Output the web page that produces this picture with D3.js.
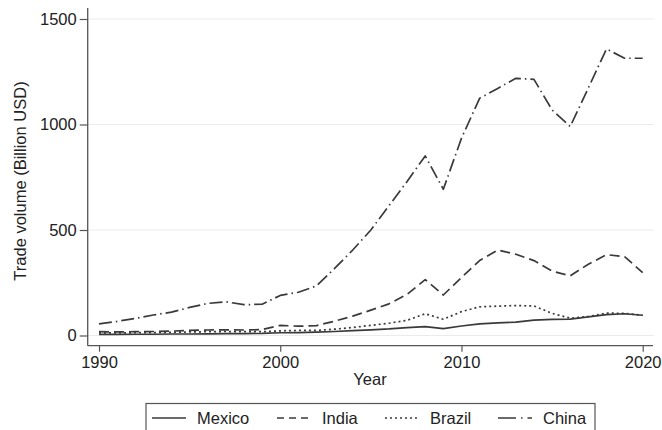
<!DOCTYPE html>
<html>
<head>
<meta charset="utf-8">
<script src="https://cdn.jsdelivr.net/npm/d3@7"></script>
<style>
  html, body { margin: 0; padding: 0; background: #fff; }
  svg { display: block; font-family: "Liberation Sans", Arial, Helvetica, sans-serif; }
</style>
</head>
<body>
<svg id="chart" width="662" height="430"></svg>
<script>
// Annual trade volume, billion USD
const years = d3.range(1990, 2021);
const mexico = [5,5,6,6,7,7,8,9,9,10,13,14,16,19,23,27,31,37,42,33,45,55,60,63,73,76,78,88,99,103,96];
const india  = [18,17,18,19,21,24,26,27,26,28,48,44,47,68,92,120,150,195,265,192,275,355,405,385,355,305,283,338,383,374,298];
const brazil = [12,12,13,14,15,17,18,19,18,18,22,24,24,30,38,48,58,72,103,77,113,136,139,142,140,105,82,90,106,105,96];
const china  = [55,67,81,97,111,133,152,160,146,148,190,205,235,318,405,500,615,730,851,693,935,1124,1171,1219,1214,1069,990,1173,1358,1314,1314];
const yTicks = [0, 500, 1000, 1500];
const xTicks = [1990, 2000, 2010, 2020];
const seriesNames = ["Mexico", "India", "Brazil", "China"];

const series = [
  { name: seriesNames[0], values: mexico, dash: null,         key: null },
  { name: seriesNames[1], values: india,  dash: "10,5",       key: "7,5" },
  { name: seriesNames[2], values: brazil, dash: "2,3",        key: "2,3" },
  { name: seriesNames[3], values: china,  dash: "13,4,1.5,4", key: "18,5,1.5,5" }
];

const svg = d3.select("#chart");
const ink = "#3a3a3a";
const axisInk = "#555";
const textInk = "#222";

const x = d3.scaleLinear().domain([1990, 2020]).range([99, 642.7]);
const y = d3.scaleLinear().domain([0, 1500]).range([335.5, 19]);

// plot region edges (axes are drawn offset from the data range)
const axisX = 87.7, axisY = 345.7, plotTop = 8, plotRight = 654;

// horizontal gridlines
svg.append("g").selectAll("line").data(yTicks).join("line")
  .attr("x1", axisX).attr("x2", plotRight)
  .attr("y1", d => y(d)).attr("y2", d => y(d))
  .attr("stroke", "#ebebeb").attr("stroke-width", 1);

// y axis
const gy = svg.append("g").attr("transform", `translate(${axisX},0)`)
  .call(d3.axisLeft(y).tickValues(yTicks).tickFormat(d3.format("d"))
    .tickSize(8).tickPadding(3).tickSizeOuter(0));
gy.select(".domain").remove();
gy.append("line").attr("x1", 0).attr("x2", 0).attr("y1", plotTop).attr("y2", axisY)
  .attr("stroke", axisInk).attr("stroke-width", 1.3);
gy.selectAll(".tick line").attr("stroke", axisInk).attr("stroke-width", 1.2);
gy.selectAll(".tick text").attr("fill", textInk).style("font-size", "16.5px")
  .style("font-family", '"Liberation Sans", Arial, sans-serif');

// x axis
const gx = svg.append("g").attr("transform", `translate(0,${axisY})`)
  .call(d3.axisBottom(x).tickValues(xTicks).tickFormat(d3.format("d"))
    .tickSize(6).tickPadding(5).tickSizeOuter(0));
gx.select(".domain").remove();
gx.append("line").attr("x1", axisX).attr("x2", plotRight - 1).attr("y1", 0).attr("y2", 0)
  .attr("stroke", axisInk).attr("stroke-width", 1.3);
gx.selectAll(".tick line").attr("stroke", axisInk).attr("stroke-width", 1.2);
gx.selectAll(".tick text").attr("fill", textInk).style("font-size", "16.5px")
  .style("font-family", '"Liberation Sans", Arial, sans-serif');

// axis titles
svg.append("text").attr("x", 370).attr("y", 385).attr("text-anchor", "middle")
  .attr("fill", textInk).style("font-size", "16.5px").text("Year");
svg.append("text").attr("transform", "translate(26,181) rotate(-90)").attr("text-anchor", "middle")
  .attr("fill", textInk).style("font-size", "16.5px").text("Trade volume (Billion USD)");

// series lines
const line = d3.line().x((d, i) => x(years[i])).y(d => y(d));
svg.append("g").selectAll("path").data(series).join("path")
  .attr("d", d => line(d.values))
  .attr("fill", "none")
  .attr("stroke", ink)
  .attr("stroke-width", 1.7)
  .attr("stroke-linejoin", "round")
  .attr("stroke-dasharray", d => d.dash);

// legend
const legend = svg.append("g");
legend.append("rect").attr("x", 146).attr("y", 403.5).attr("width", 449).attr("height", 40)
  .attr("fill", "#fff").attr("stroke", axisInk).attr("stroke-width", 1.2);
const keyX = [152, 277, 385, 498];
const item = legend.selectAll("g.item").data(series).join("g")
  .attr("class", "item")
  .attr("transform", (d, i) => `translate(${keyX[i]},418)`);
item.append("line").attr("x1", 0).attr("x2", 34).attr("y1", 0).attr("y2", 0)
  .attr("stroke", ink).attr("stroke-width", 1.6)
  .attr("stroke-dasharray", d => d.key);
item.append("text").attr("x", 45).attr("y", 6).attr("fill", textInk)
  .style("font-size", "16.5px").text(d => d.name);
</script>
</body>
</html>
